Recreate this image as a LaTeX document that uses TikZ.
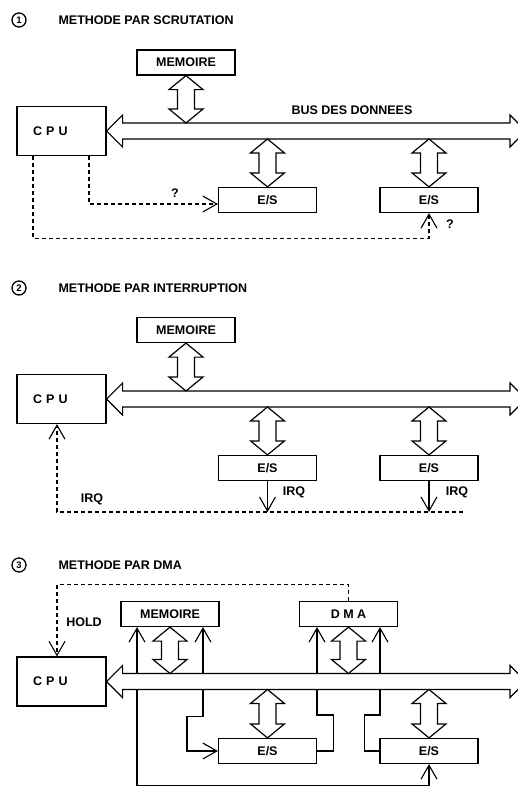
\documentclass[tikz,border=0pt]{standalone}
\usepackage{fontspec}
\setmainfont{Liberation Sans}
\usetikzlibrary{arrows.meta,positioning,calc}
\newcommand{\lblfont}{\fontsize{12.5}{14}\selectfont\bfseries}
\tikzset{
  unitbox/.style={draw, line width=1.2pt, fill=white, minimum width=98pt,
    minimum height=25pt, inner sep=0pt, font=\lblfont},
  cpubox/.style={draw, line width=1.2pt, fill=white, text width=57pt, inner xsep=16pt,
    minimum height=49pt, align=left, font=\lblfont},
  fatarr/.style={draw, line width=1.2pt, fill=white, line join=miter},
  sig/.style={line width=1.1pt, -{Straight Barb[length=14pt,width=16pt]}},
  dsig/.style={line width=1.1pt, {Straight Barb[length=14pt,width=16pt]}-{Straight Barb[length=14pt,width=16pt]}},
  dashsig/.style={sig, dashed, dash pattern=on 4pt off 3pt},
  title/.style={anchor=west, font=\lblfont},
  num/.style={circle, draw, line width=1.3pt, minimum size=14pt, inner sep=0pt,
    font=\bfseries\fontsize{9.5}{9.5}\selectfont},
  tag/.style={font=\lblfont}
}
% vertical two-headed fat arrow, top tip #1, bottom tip #2
\newcommand{\vfat}[2]{%
  \path[fatarr] let \p1=(#1), \p2=(#2) in
    (\x1,\y1) -- (\x1+17pt,\y1-14pt) -- (\x1+8.5pt,\y1-14pt) -- (\x1+8.5pt,\y2+14pt)
    -- (\x1+17pt,\y2+14pt) -- (\x1,\y2) -- (\x1-17pt,\y2+14pt) -- (\x1-8.5pt,\y2+14pt)
    -- (\x1-8.5pt,\y1-14pt) -- (\x1-17pt,\y1-14pt) -- cycle;}
% horizontal bus, left tip #1, right tip #2
\newcommand{\busarrow}[2]{%
  \path[fatarr] let \p1=(#1), \p2=(#2) in
    (\x1,\y1) -- (\x1+16pt,\y1+16pt) -- (\x1+16pt,\y1+8pt) -- (\x2-16pt,\y1+8pt)
    -- (\x2-16pt,\y1+16pt) -- (\x2,\y1) -- (\x2-16pt,\y1-16pt) -- (\x2-16pt,\y1-8pt)
    -- (\x1+16pt,\y1-8pt) -- (\x1+16pt,\y1-16pt) -- cycle;}
\begin{document}
\begin{tikzpicture}[x=1pt,y=-1pt]
  \useasboundingbox (0,0) rectangle (518,787);
  \clip (0,0) rectangle (518,787);

  % --- 1: polling
  \node[num] (n1) at (19,20) {1};
  \node[title] (t1) at (55,20) {METHODE PAR SCRUTATION};
  \node[unitbox] (mem1) at (186,62.5) {MEMOIRE};
  \node[cpubox] (cpu1) at (61.5,131) {C P U};
  \node[unitbox] (es1a) at (267.5,200) {E/S};
  \node[unitbox] (es1b) at (429,200) {E/S};
  \coordinate (b1r) at (526,131);
  \coordinate (b1n) at ([yshift=8pt]cpu1.east);
  \coordinate (b1s) at ([yshift=-8pt]cpu1.east);
  \busarrow{cpu1.east}{b1r}
  \node[tag] (bus1) at (352,110) {BUS DES DONNEES};
  \vfat{mem1.south}{mem1.south |- b1n}
  \vfat{es1a.north |- b1s}{es1a.north}
  \vfat{es1b.north |- b1s}{es1b.north}
  \draw[dashsig] ([xshift=27.5pt]cpu1.south) |- ([yshift=-4pt]es1a.west);
  \draw[dashsig] ([xshift=-28.5pt]cpu1.south) -- ++(0,82) -| (es1b.south);
  \node[tag] (q1) at (175,193) {?};
  \node[tag] (q2) at (450,224) {?};

  % --- 2: interrupt
  \node[num] (n2) at (19,288) {2};
  \node[title] (t2) at (55,288) {METHODE PAR INTERRUPTION};
  \node[unitbox] (mem2) at (186,330) {MEMOIRE};
  \node[cpubox] (cpu2) at (61.5,399) {C P U};
  \node[unitbox] (es2a) at (267.5,468) {E/S};
  \node[unitbox] (es2b) at (429,468) {E/S};
  \coordinate (b2r) at (526,399);
  \coordinate (b2n) at ([yshift=8pt]cpu2.east);
  \coordinate (b2s) at ([yshift=-8pt]cpu2.east);
  \busarrow{cpu2.east}{b2r}
  \vfat{mem2.south}{mem2.south |- b2n}
  \vfat{es2a.north |- b2s}{es2a.north}
  \vfat{es2b.north |- b2s}{es2b.north}
  \coordinate (irq2) at (463,512);
  \draw[sig] (es2a.south) -- (es2a.south |- irq2);
  \draw[sig] (es2b.south) -- (es2b.south |- irq2);
  \draw[dashsig] (irq2) -| ([xshift=-4.5pt]cpu2.south);
  \node[tag] (irqa) at (92,499) {IRQ};
  \node[tag] (irqb) at (294,492) {IRQ};
  \node[tag] (irqc) at (457,492) {IRQ};

  % --- 3: DMA
  \node[num] (n3) at (19,565) {3};
  \node[title] (t3) at (55,565) {METHODE PAR DMA};
  \node[unitbox] (mem3) at (170,614) {MEMOIRE};
  \node[unitbox] (dma) at (348.5,614) {D M A};
  \node[cpubox] (cpu3) at (61.5,681.5) {C P U};
  \node[unitbox] (es3a) at (267.5,751) {E/S};
  \node[unitbox] (es3b) at (429,751) {E/S};
  \draw[dashsig] (dma.north) -- ++(0,-16) -| ([xshift=-4.5pt]cpu3.north);
  \node[tag] (hold) at (84,622) {HOLD};
  % control lines, the bus is laid over them
  \draw[dsig] ([xshift=-33pt]mem3.south) -- ++(0,158.5) -| (es3b.south);
  \draw[dsig] ([xshift=33pt]mem3.south) -- ++(0,89) -- ++(-16,0) |- (es3a.west);
  \draw[sig] (es3a.east) -| ++(16,-36) -| ([xshift=-31.5pt]dma.south);
  \draw[sig] (es3b.west) -| ++(-15,-36) -| ([xshift=31.5pt]dma.south);
  \coordinate (b3r) at (526,681.5);
  \coordinate (b3n) at ([yshift=8pt]cpu3.east);
  \coordinate (b3s) at ([yshift=-8pt]cpu3.east);
  \busarrow{cpu3.east}{b3r}
  \vfat{mem3.south}{mem3.south |- b3n}
  \vfat{dma.south}{dma.south |- b3n}
  \vfat{es3a.north |- b3s}{es3a.north}
  \vfat{es3b.north |- b3s}{es3b.north}
\end{tikzpicture}
\end{document}
